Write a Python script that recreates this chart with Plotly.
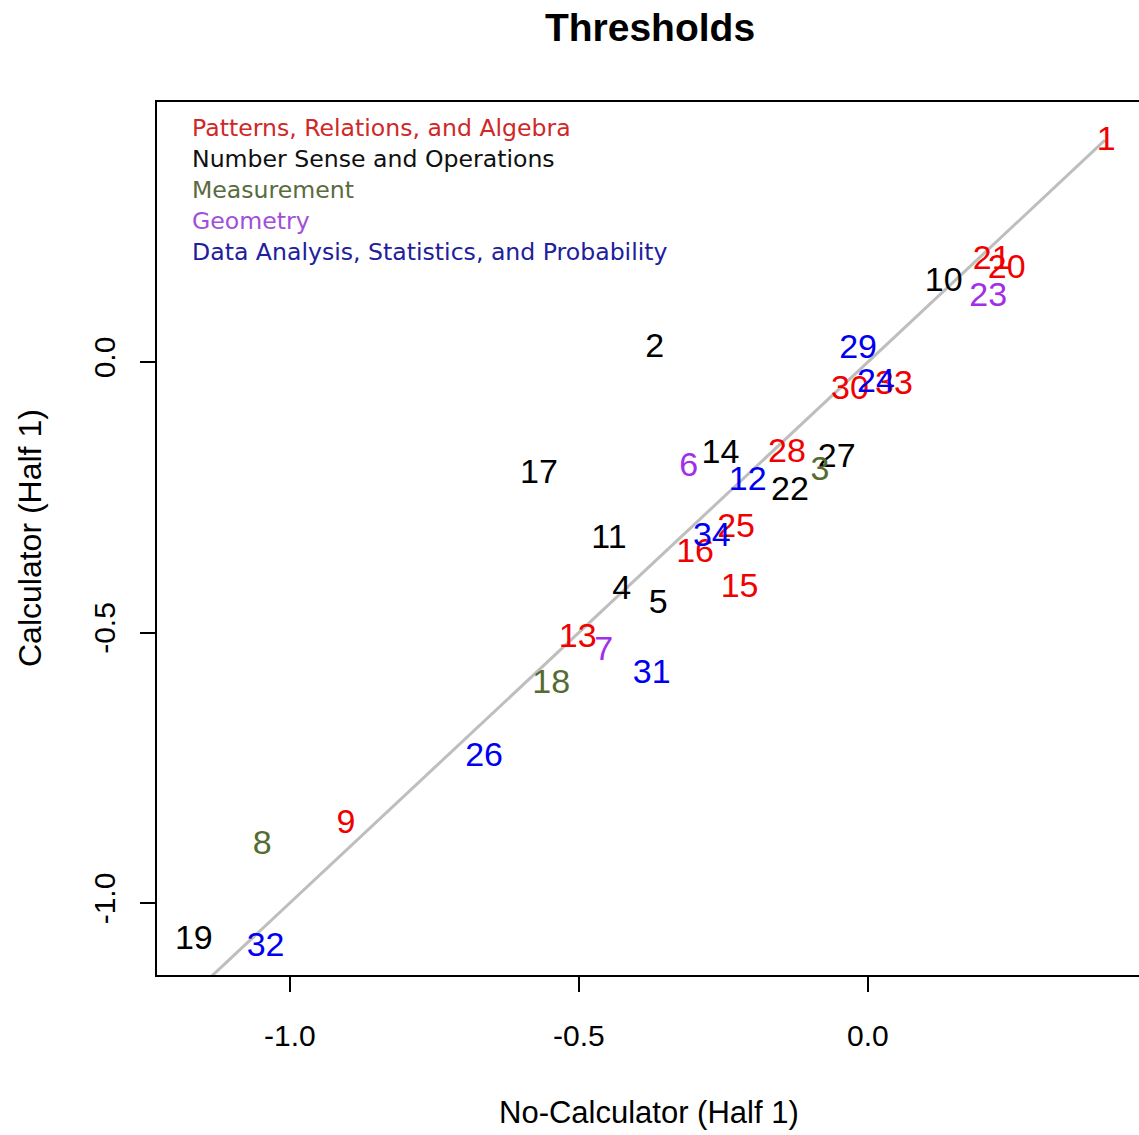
import plotly.graph_objects as go

# ---- data ----
labels = ["1", "2", "3", "4", "5", "6", "7", "8", "9", "10",
          "11", "12", "13", "14", "15", "16", "17", "18", "19", "20",
          "21", "22", "23", "24", "25", "26", "27", "28", "29", "30",
          "31", "32", "33", "34"]
no_calc = [0.412, -0.369, -0.083, -0.426, -0.363, -0.310, -0.457, -1.048, -0.903, 0.131,
           -0.448, -0.208, -0.502, -0.255, -0.222, -0.299, -0.569, -0.548, -1.166, 0.240,
           0.214, -0.135, 0.208, 0.014, -0.228, -0.664, -0.054, -0.140, -0.017, -0.031,
           -0.374, -1.042, 0.045, -0.270]
calc = [0.414, 0.031, -0.197, -0.416, -0.442, -0.190, -0.529, -0.889, -0.850, 0.153,
        -0.323, -0.216, -0.506, -0.165, -0.414, -0.349, -0.203, -0.590, -1.063, 0.176,
        0.194, -0.233, 0.124, -0.035, -0.303, -0.726, -0.172, -0.163, 0.028, -0.048,
        -0.573, -1.076, -0.037, -0.318]
category = ["P", "N", "M", "N", "N", "G", "G", "M", "P", "N",
            "N", "D", "P", "N", "P", "P", "N", "M", "N", "P",
            "P", "N", "G", "D", "P", "D", "N", "P", "D", "P",
            "D", "D", "P", "D"]
cat_codes = ["P", "N", "M", "G", "D"]
cat_names = ["Patterns, Relations, and Algebra", "Number Sense and Operations",
             "Measurement", "Geometry", "Data Analysis, Statistics, and Probability"]
line_ends = [-1.25, 0.41]
x_ticks = [-1.0, -0.5, 0.0]
x_ticktext = ["-1.0", "-0.5", "0.0"]
y_ticks = [-1.0, -0.5, 0.0]
y_ticktext = ["-1.0", "-0.5", "0.0"]

# ---- styles ----
num_colors = {"P": "#F00000", "N": "#000000", "M": "#556B2F", "G": "#A030E8", "D": "#0000F0"}
leg_colors = {"P": "#D02828", "N": "#101010", "M": "#5A6B40", "G": "#A050D8", "D": "#20209C"}
FONT = "Liberation Sans, Arial, sans-serif"
LEG_FONT = "DejaVu Sans, Verdana, sans-serif"

# plot area geometry (pixels)
L, T, R, B = 157, 102, 1139, 975
W, H = R - L, B - T
Y_RANGE = [-1.1331, 0.4806]
# plotly centres the text box, R centres the glyphs: compensate ~3px
text_dy = 3 * (Y_RANGE[1] - Y_RANGE[0]) / H

fig = go.Figure()

# identity line
fig.add_trace(go.Scatter(x=line_ends, y=line_ends, mode="lines",
                         line=dict(color="#BEBEBE", width=3),
                         hoverinfo="skip", showlegend=False))

for code in cat_codes:
    xs = [x for x, c in zip(no_calc, category) if c == code]
    ys = [y - text_dy for y, c in zip(calc, category) if c == code]
    ts = [t for t, c in zip(labels, category) if c == code]
    fig.add_trace(go.Scatter(x=xs, y=ys, text=ts, mode="text",
                             textposition="middle center",
                             textfont=dict(family=FONT, size=34, color=num_colors[code]),
                             showlegend=False, cliponaxis=False))


def py(p):
    return (B - p) / H


def px(p):
    return (p - L) / W


annotations = []
for i, (code, name) in enumerate(zip(cat_codes, cat_names)):
    annotations.append(dict(text=name, xref="paper", yref="paper",
                            x=px(190), y=py(128 + 31 * i), xanchor="left", yanchor="middle",
                            showarrow=False,
                            font=dict(family=LEG_FONT, size=23.6, color=leg_colors[code])))

annotations.append(dict(text="No-Calculator (Half 1)", xref="paper", yref="paper",
                        x=px(649), y=py(1112), xanchor="center", yanchor="middle",
                        showarrow=False, font=dict(family=FONT, size=31, color="#000000")))
annotations.append(dict(text="Calculator (Half 1)", xref="paper", yref="paper",
                        x=px(30), y=py(538), xanchor="center", yanchor="middle",
                        textangle=-90, showarrow=False,
                        font=dict(family=FONT, size=32, color="#000000")))

fig.update_layout(
    width=1139, height=1135,
    margin=dict(l=L, r=1139 - R, t=T, b=1135 - B),
    paper_bgcolor="white", plot_bgcolor="white",
    title=dict(text="<b>Thresholds</b>", x=px(650), xref="paper", xanchor="center",
               y=1 - 27 / 1135, yref="container", yanchor="middle",
               font=dict(family=FONT, size=39, color="#000000")),
    annotations=annotations,
    showlegend=False,
)

fig.update_xaxes(range=[-1.2298, 0.4689], showgrid=False, zeroline=False,
                 showline=True, linecolor="#000000", linewidth=2, mirror=True,
                 ticks="outside", ticklen=15, tickwidth=2, tickcolor="#000000",
                 tickvals=x_ticks, ticktext=x_ticktext, ticklabelstandoff=18,
                 tickfont=dict(family=FONT, size=30, color="#000000"))
fig.update_yaxes(range=Y_RANGE, showgrid=False, zeroline=False,
                 showline=True, linecolor="#000000", linewidth=2,
                 ticks="outside", ticklen=15, tickwidth=2, tickcolor="#000000",
                 tickvals=y_ticks, ticktext=y_ticktext, tickangle=-90, ticklabelstandoff=13,
                 tickfont=dict(family=FONT, size=30, color="#000000"))

fig.write_html("out.html")
